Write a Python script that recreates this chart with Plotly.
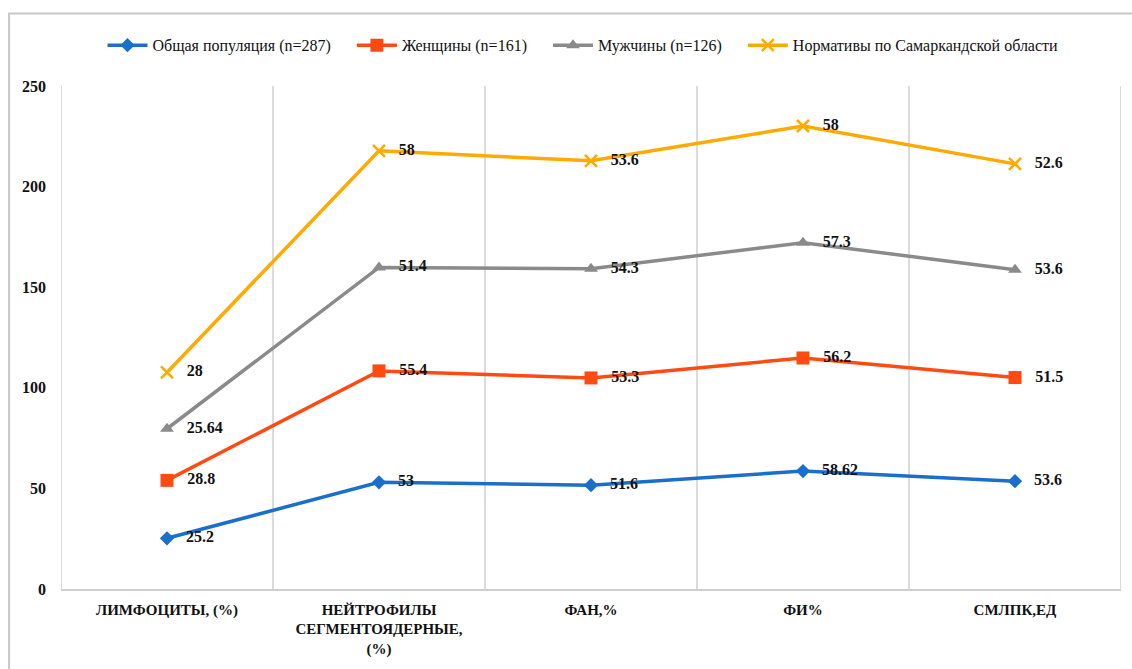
import numpy as np
import plotly.graph_objects as go

categories = ["ЛИМФОЦИТЫ, (%)", "НЕЙТРОФИЛЫ<br>СЕГМЕНТОЯДЕРНЫЕ,<br>(%)", "ФАН,%", "ФИ%", "СМЛПК,ЕД"]

series_names = [
    "Общая популяция (n=287)",
    "Женщины (n=161)",
    "Мужчины (n=126)",
    "Нормативы по Самаркандской области",
]
total_pop = [25.2, 53, 51.6, 58.62, 53.6]
women = [28.8, 55.4, 53.3, 56.2, 51.5]
men = [25.64, 51.4, 54.3, 57.3, 53.6]
norms = [28, 58, 53.6, 58, 52.6]

y_ticks = [0, 50, 100, 150, 200, 250]

colors = ["#1a6fcc", "#ff4a12", "#8a8a8a", "#ffaa00"]
symbols = ["diamond", "square", "triangle-up", "x-thin"]
msizes = [11, 13, 12, 12]

serif = "Liberation Serif"
x = np.arange(len(categories))
values = [total_pop, women, men, norms]
stacked = np.cumsum(np.array(values, dtype=float), axis=0)

fig = go.Figure()
for i, name in enumerate(series_names):
    marker = dict(symbol=symbols[i], size=msizes[i], color=colors[i])
    if symbols[i] == "x-thin":
        marker["line"] = dict(color=colors[i], width=2.5)
    fig.add_trace(go.Scatter(
        x=x, y=stacked[i], name=name + "\u00a0" * 4, mode="lines+markers+text",
        line=dict(color=colors[i], width=3.5),
        marker=marker,
        text=["\u2002\u2009" + f"{v:g}" for v in values[i]],
        textposition="middle right",
        textfont=dict(family=serif, size=16, color="#111111", weight="bold"),
    ))

# vertical separators between categories
for b in np.arange(-0.5, len(categories) + 0.5, 1.0):
    fig.add_shape(type="line", xref="x", yref="y", x0=b, x1=b, y0=0, y1=250,
                  line=dict(color="#cfcfcf", width=1.5), layer="below")

# outer frame
fig.add_shape(type="rect", xref="paper", yref="paper",
              x0=-0.049, x1=1.03, y0=-0.2, y1=1.144,
              line=dict(color="#c8c8c8", width=2), fillcolor="rgba(0,0,0,0)")

fig.update_layout(
    width=1132, height=669,
    margin=dict(l=61, r=11, t=86, b=77),
    paper_bgcolor="white", plot_bgcolor="white",
    font=dict(family=serif, color="#111111"),
    showlegend=True,
    legend=dict(orientation="h", x=0.5, xanchor="center", y=1.081, yanchor="middle",
                font=dict(family=serif, size=16, color="#111111"),
                itemwidth=40, traceorder="normal"),
    xaxis=dict(range=[-0.5, len(categories) - 0.5], tickvals=list(x), ticktext=categories,
               showgrid=False, zeroline=False, showline=True, linecolor="#cfcfcf", linewidth=1.5,
               tickfont=dict(family=serif, size=15, color="#111111", weight="bold"),
               ticks="", ticklabelstandoff=6),
    yaxis=dict(range=[0, 250], tickvals=y_ticks, showgrid=False, zeroline=False,
               showline=False, ticks="",
               tickfont=dict(family=serif, size=16, color="#111111", weight="bold"),
               ticklabelstandoff=14),
)

fig.write_html("out.html")
